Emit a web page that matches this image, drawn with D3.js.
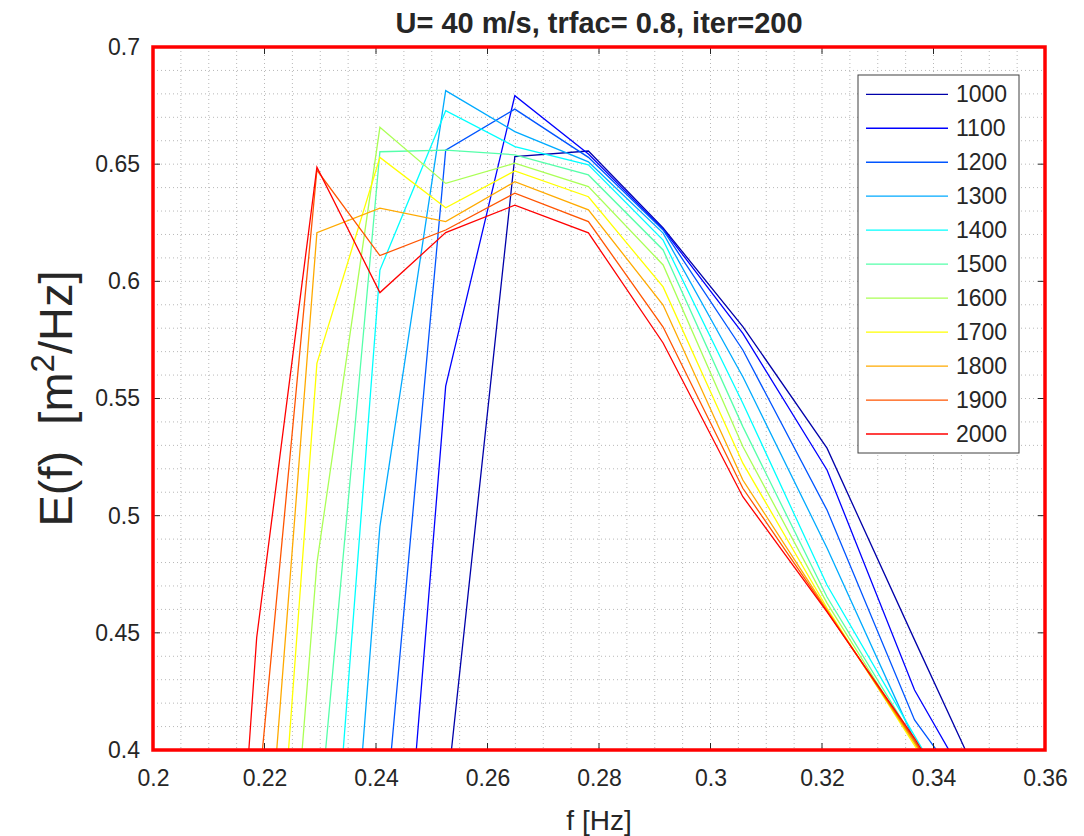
<!DOCTYPE html>
<html>
<head>
<meta charset="utf-8">
<script src="https://cdn.jsdelivr.net/npm/d3@7"></script>
<style>
  body { margin: 0; background: #fff; }
  text { font-family: "Liberation Sans", Arial, Helvetica, sans-serif; fill: #262626; }
</style>
</head>
<body>
<svg width="1084" height="836"></svg>
<script>
// frequencies [Hz]
const freq = [0.2083, 0.2186, 0.2294, 0.2407, 0.2525, 0.2649, 0.2781, 0.2915, 0.3058, 0.3209, 0.3366, 0.3531];

// E(f) for each run
const e1000 = [0.09, 0.12, 0.16, 0.24, 0.377, 0.6532, 0.6556, 0.6228, 0.5807, 0.5288, 0.447, 0.362];
const e1100 = [0.05, 0.08, 0.13, 0.2076, 0.5553, 0.6792, 0.6543, 0.6223, 0.5778, 0.5195, 0.4256, 0.357];
const e1200 = [0.06, 0.10, 0.15, 0.346, 0.656, 0.6735, 0.6529, 0.6219, 0.5707, 0.5024, 0.4128, 0.359];
const e1300 = [0.07, 0.10, 0.149, 0.4953, 0.6814, 0.6639, 0.651, 0.6206, 0.5593, 0.4862, 0.404, 0.34];
const e1400 = [0.08, 0.15, 0.253, 0.6048, 0.6728, 0.6575, 0.6497, 0.6176, 0.548, 0.4704, 0.406, 0.34];
const e1500 = [0.09, 0.20, 0.359, 0.6553, 0.656, 0.654, 0.6454, 0.6134, 0.538, 0.4653, 0.404, 0.34];
const e1600 = [0.05, 0.155, 0.4797, 0.6657, 0.6418, 0.6504, 0.6404, 0.607, 0.5295, 0.4627, 0.403, 0.34];
const e1700 = [0.06, 0.215, 0.565, 0.6529, 0.6314, 0.6471, 0.6361, 0.5976, 0.5224, 0.4606, 0.402, 0.34];
const e1800 = [0.07, 0.29, 0.6208, 0.6312, 0.6255, 0.6425, 0.6305, 0.5899, 0.5152, 0.4598, 0.403, 0.34];
const e1900 = [0.08, 0.374, 0.6475, 0.611, 0.6219, 0.6376, 0.6255, 0.5805, 0.5117, 0.4593, 0.404, 0.34];
const e2000 = [0.097, 0.448, 0.6487, 0.5952, 0.6208, 0.6325, 0.6207, 0.5737, 0.5081, 0.4589, 0.405, 0.34];

const runs = ["1000", "1100", "1200", "1300", "1400", "1500", "1600", "1700", "1800", "1900", "2000"];
const values = [e1000, e1100, e1200, e1300, e1400, e1500, e1600, e1700, e1800, e1900, e2000];

// jet(11)
const colors = ["#0000aa", "#0000ff", "#0055ff", "#00aaff", "#00ffff", "#55ffaa",
                "#aaff55", "#ffff00", "#ffaa00", "#ff5500", "#ff0000"];

const xTicks = [0.2, 0.22, 0.24, 0.26, 0.28, 0.3, 0.32, 0.34, 0.36];
const yTicks = [0.4, 0.45, 0.5, 0.55, 0.6, 0.65, 0.7];

// plot box
const pLeft = 153, pRight = 1045, pTop = 47, pBottom = 750;

const svg = d3.select("svg");

const x = d3.scaleLinear().domain([0.2, 0.36]).range([pLeft, pRight]);
const y = d3.scaleLinear().domain([0.4, 0.7]).range([pBottom, pTop]);

svg.append("defs").append("clipPath").attr("id", "clip")
  .append("rect")
  .attr("x", pLeft).attr("y", pTop)
  .attr("width", pRight - pLeft).attr("height", pBottom - pTop);

// grid (major + minor, dotted)
const grid = svg.append("g").attr("stroke", "#b8b8b8").attr("stroke-width", 1)
  .attr("stroke-dasharray", "1,3");
grid.selectAll(".gx").data(d3.range(0.205, 0.36, 0.005))
  .enter().append("line")
  .attr("x1", d => x(d)).attr("x2", d => x(d))
  .attr("y1", pTop).attr("y2", pBottom);
grid.selectAll(".gy").data(d3.range(0.41, 0.70, 0.01))
  .enter().append("line")
  .attr("x1", pLeft).attr("x2", pRight)
  .attr("y1", d => y(d)).attr("y2", d => y(d));

// lines
const line = d3.line()
  .x((d, i) => x(freq[i]))
  .y(d => y(d));

svg.append("g").attr("clip-path", "url(#clip)")
  .selectAll("path")
  .data(values)
  .enter().append("path")
  .attr("fill", "none")
  .attr("stroke", (d, i) => colors[i])
  .attr("stroke-width", 1.3)
  .attr("d", line);

// axes: ticks inward on all four sides
const tickLen = 7;
const xAxis = d3.axisBottom(x).tickValues(xTicks).tickFormat(d3.format("~g")).tickSize(0).tickPadding(20);
const yAxis = d3.axisLeft(y).tickValues(yTicks).tickFormat(d3.format("~g")).tickSize(0).tickPadding(13);

const gx = svg.append("g").attr("transform", `translate(0,${pBottom})`).call(xAxis);
const gy = svg.append("g").attr("transform", `translate(${pLeft},0)`).call(yAxis);
[gx, gy].forEach(g => {
  g.select(".domain").remove();
  g.selectAll("text").style("font-size", "23px").attr("fill", "#262626");
});

const ticks = svg.append("g").attr("stroke", "#262626").attr("stroke-width", 1);
ticks.selectAll(".tb").data(xTicks).enter().append("line")
  .attr("x1", d => x(d)).attr("x2", d => x(d)).attr("y1", pBottom).attr("y2", pBottom - tickLen);
ticks.selectAll(".tt").data(xTicks).enter().append("line")
  .attr("x1", d => x(d)).attr("x2", d => x(d)).attr("y1", pTop).attr("y2", pTop + tickLen);
ticks.selectAll(".tl").data(yTicks).enter().append("line")
  .attr("x1", pLeft).attr("x2", pLeft + tickLen).attr("y1", d => y(d)).attr("y2", d => y(d));
ticks.selectAll(".tr").data(yTicks).enter().append("line")
  .attr("x1", pRight).attr("x2", pRight - tickLen).attr("y1", d => y(d)).attr("y2", d => y(d));

// red axes box
svg.append("rect")
  .attr("x", pLeft).attr("y", pTop)
  .attr("width", pRight - pLeft).attr("height", pBottom - pTop)
  .attr("fill", "none").attr("stroke", "#ff0000").attr("stroke-width", 3.5);

// title and labels
svg.append("text")
  .attr("x", (pLeft + pRight) / 2).attr("y", 33)
  .attr("text-anchor", "middle")
  .style("font-size", "29px").style("font-weight", "bold")
  .attr("fill", "#000")
  .text("U= 40 m/s, trfac= 0.8, iter=200");

svg.append("text")
  .attr("x", (pLeft + pRight) / 2).attr("y", 830)
  .attr("text-anchor", "middle")
  .style("font-size", "28px")
  .text("f [Hz]");

const yl = svg.append("text")
  .attr("transform", `translate(72,${(pTop + pBottom) / 2}) rotate(-90)`)
  .attr("text-anchor", "middle")
  .style("font-size", "47px")
  .style("white-space", "pre");
yl.append("tspan").text("E(f)  [m");
yl.append("tspan").attr("dy", -18).style("font-size", "33px").text("2");
yl.append("tspan").attr("dy", 18).text("/Hz]");

// legend
const lg = svg.append("g");
lg.append("rect")
  .attr("x", 858).attr("y", 75).attr("width", 161).attr("height", 378)
  .attr("fill", "#fff").attr("stroke", "#404040").attr("stroke-width", 1);
const item = lg.selectAll(".item").data(runs).enter().append("g")
  .attr("transform", (d, i) => `translate(0,${94.3 + i * 33.97})`);
item.append("line")
  .attr("x1", 866).attr("x2", 948)
  .attr("stroke", (d, i) => colors[i]).attr("stroke-width", 1.3);
item.append("text")
  .attr("x", 956).attr("y", 8)
  .style("font-size", "23px")
  .attr("fill", "#000")
  .text(d => d);
</script>
</body>
</html>
